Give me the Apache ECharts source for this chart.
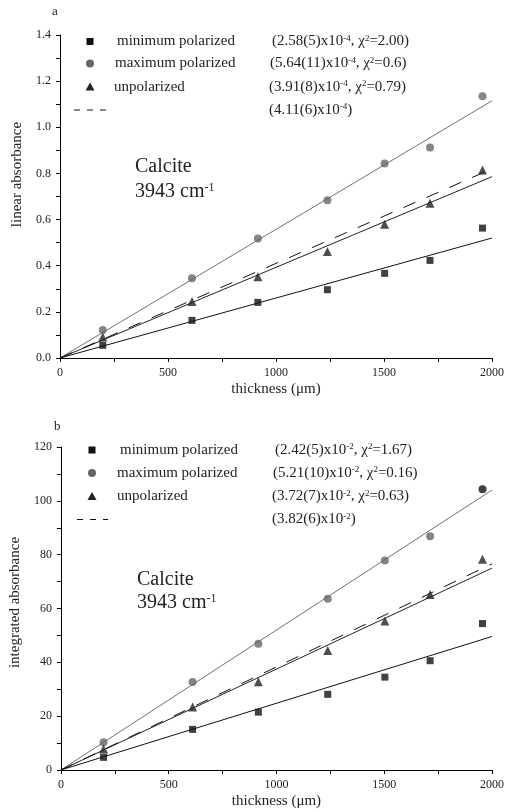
<!DOCTYPE html>
<html><head><meta charset="utf-8">
<script src="https://cdn.jsdelivr.net/npm/echarts@6/dist/echarts.min.js"></script>
<style>html,body{margin:0;padding:0;background:#fff}#c{width:507px;height:812px}</style>
</head><body><div id="c"></div>
<script>
// ---- data ----
const thickness = [198, 611, 916, 1238, 1503, 1713, 1956];
const minLinear = [0.055, 0.163, 0.241, 0.296, 0.367, 0.423, 0.563];
const maxLinear = [0.121, 0.346, 0.518, 0.684, 0.843, 0.912, 1.134];
const unpolLinear = [0.091, 0.245, 0.352, 0.462, 0.580, 0.671, 0.815];
const minIntegrated = [4.7, 15.1, 21.5, 28.1, 34.5, 40.6, 54.4];
const maxIntegrated = [10.3, 32.7, 46.9, 63.6, 77.8, 86.8, 104.3];
const unpolIntegrated = [7.8, 23.4, 32.8, 44.4, 55.4, 65.2, 78.3];
// fit lines through origin: value at thickness 2000 (min, max, unpol, dashed)
const fitEndX = 2000;
const fitEndsLinear = [0.52, 1.115, 0.786, 0.82];
const fitEndsIntegrated = [49.6, 104.0, 75.0, 76.6];
const legendNames = ['minimum polarized', 'maximum polarized', 'unpolarized', ''];
const fitLabelsA = ['(2.58(5)x10{s|-4}, χ{s|2}=2.00)', '(5.64(11)x10{s|-4}, χ{s|2}=0.6)', '(3.91(8)x10{s|-4}, χ{s|2}=0.79)', '(4.11(6)x10{s|-4})'];
const fitLabelsB = ['(2.42(5)x10{s|-2}, χ{s|2}=1.67)', '(5.21(10)x10{s|-2}, χ{s|2}=0.16)', '(3.72(7)x10{s|-2}, χ{s|2}=0.63)', '(3.82(6)x10{s|-2})'];
const xTicks = [0, 500, 1000, 1500, 2000];
const yTicksA = [0, 0.2, 0.4, 0.6, 0.8, 1.0, 1.2, 1.4];
const yTicksB = [0, 20, 40, 60, 80, 100, 120];

// ---- styles ----
const FONT = '"Liberation Serif", "Times New Roman", serif';
const C_MIN = '#111111', C_MAX = '#666666', C_UNP = '#222222', C_MAXLINE = '#707070';

const chart = echarts.init(document.getElementById('c'), null, {renderer: 'canvas'});

function xAxis(idx) {
  return {
    gridIndex: idx, type: 'value', min: xTicks[0], max: xTicks[xTicks.length - 1], interval: xTicks[1] - xTicks[0],
    name: 'thickness (μm)', nameLocation: 'middle', nameGap: 24,
    nameTextStyle: {fontFamily: FONT, fontSize: 15, color: '#222'},
    axisLine: {show: true, onZero: false, lineStyle: {color: '#000', width: 1}},
    axisTick: {show: true, length: 4, lineStyle: {color: '#000'}},
    minorTick: {show: true, splitNumber: 2, length: 4, lineStyle: {color: '#000'}},
    axisLabel: {fontFamily: FONT, fontSize: 12, color: '#222', margin: 9, formatter: v => String(v)},
    splitLine: {show: false}
  };
}
function yAxis(idx, ticks, name, dec, pad) {
  return {
    gridIndex: idx, type: 'value', min: ticks[0], max: ticks[ticks.length - 1], interval: ticks[1] - ticks[0],
    name: name, nameLocation: 'middle', nameGap: 35,
    nameTextStyle: {fontFamily: FONT, fontSize: 15, color: '#222', padding: pad},
    axisLine: {show: true, lineStyle: {color: '#000', width: 1}},
    axisTick: {show: true, length: 4, lineStyle: {color: '#000'}},
    minorTick: {show: true, splitNumber: 2, length: 4, lineStyle: {color: '#000'}},
    axisLabel: {fontFamily: FONT, fontSize: 12, color: '#222', margin: 9,
      formatter: v => v.toFixed(dec)},
    splitLine: {show: false}
  };
}

function fitSeries(idx, ends) {
  const styles = [
    {color: C_MIN, type: 'solid'},
    {color: C_MAXLINE, type: 'solid'},
    {color: C_UNP, type: 'solid'},
    {color: '#111', type: [13, 12]}
  ];
  return ends.map((v, i) => ({
    type: 'line', xAxisIndex: idx, yAxisIndex: idx, silent: true, showSymbol: false, z: 2,
    data: [[0, 0], [fitEndX, v]],
    lineStyle: {width: 1, color: styles[i].color, type: styles[i].type}
  }));
}
function scatterSeries(idx, mins, maxs, unps, lastBlack) {
  const pair = arr => thickness.map((t, i) => [t, arr[i]]);
  return [
    {type: 'scatter', xAxisIndex: idx, yAxisIndex: idx, symbol: 'rect', symbolSize: 7, z: 5,
     itemStyle: {color: C_MIN}, data: pair(mins)},
    {type: 'scatter', xAxisIndex: idx, yAxisIndex: idx, symbol: 'circle', symbolSize: 8, z: 5,
     itemStyle: {color: p => (lastBlack && p.dataIndex === thickness.length - 1) ? C_MIN : C_MAX}, data: pair(maxs)},
    {type: 'scatter', xAxisIndex: idx, yAxisIndex: idx, symbol: 'triangle', symbolSize: 9, z: 5,
     itemStyle: {color: C_UNP}, data: pair(unps)}
  ];
}

const richSup = {s: {fontSize: 9, fontFamily: FONT, fill: '#222', verticalAlign: 'top', lineHeight: 9}};

function legendBlock(rows, mx, nameX, fitX, fitLabels, dash) {
  const g = [];
  g.push({type: 'rect', shape: {x: mx - 3.5, y: rows[0] - 3.5, width: 7, height: 7}, style: {fill: C_MIN}});
  g.push({type: 'circle', shape: {cx: mx, cy: rows[1], r: 4}, style: {fill: C_MAX}});
  g.push({type: 'polygon', shape: {points: [[mx, rows[2] - 4.5], [mx + 4.5, rows[2] + 3.5], [mx - 4.5, rows[2] + 3.5]]}, style: {fill: C_UNP}});
  g.push({type: 'line', shape: {x1: dash[0], y1: rows[3], x2: dash[1], y2: rows[3]},
    style: {stroke: '#111', lineWidth: 1, lineDash: [6, 7]}});
  legendNames.forEach((n, i) => {
    if (!n) return;
    g.push({type: 'text', x: nameX[i], y: rows[i], style: {text: n, fontFamily: FONT, fontSize: 15, fill: '#222', verticalAlign: 'middle'}});
  });
  fitLabels.forEach((t, i) => {
    g.push({type: 'text', x: fitX[i], y: rows[i], style: {text: t, rich: richSup, fontFamily: FONT, fontSize: 15, fill: '#222', verticalAlign: 'middle'}});
  });
  return g;
}

const supBig = {s: {fontSize: 12, fontFamily: FONT, fill: '#222', verticalAlign: 'top', lineHeight: 12}};
const graphics = [].concat(
  [{type: 'text', x: 52, y: 12, style: {text: 'a', fontFamily: FONT, fontSize: 13, fill: '#222', verticalAlign: 'middle'}},
   {type: 'text', x: 54, y: 427, style: {text: 'b', fontFamily: FONT, fontSize: 13, fill: '#222', verticalAlign: 'middle'}},
   {type: 'text', x: 135, y: 167, style: {text: 'Calcite', fontFamily: FONT, fontSize: 20, fill: '#222', verticalAlign: 'middle'}},
   {type: 'text', x: 135, y: 192, style: {text: '3943 cm{s|-1}', rich: supBig, fontFamily: FONT, fontSize: 20, fill: '#222', verticalAlign: 'middle'}},
   {type: 'text', x: 137, y: 580, style: {text: 'Calcite', fontFamily: FONT, fontSize: 20, fill: '#222', verticalAlign: 'middle'}},
   {type: 'text', x: 137, y: 603, style: {text: '3943 cm{s|-1}', rich: supBig, fontFamily: FONT, fontSize: 20, fill: '#222', verticalAlign: 'middle'}}],
  legendBlock([41.5, 63.5, 87, 110], 90, [117, 115, 114, 0], [272, 270, 269, 269], fitLabelsA, [74, 107]),
  legendBlock([450, 473, 496.5, 519.5], 92, [120, 117, 117, 0], [275, 273, 272, 272], fitLabelsB, [77, 108])
);

chart.setOption({
  animation: false,
  backgroundColor: '#fff',
  grid: [
    {left: 60, right: 13, top: 35, height: 323},
    {left: 60, right: 13, top: 447, height: 323}
  ],
  xAxis: [xAxis(0), xAxis(1)],
  yAxis: [
    yAxis(0, yTicksA, 'linear absorbance', 1, [0, 0, 0, 44]),
    yAxis(1, yTicksB, 'integrated absorbance', 0, [0, 0, 0, 12])
  ],
  series: [].concat(
    fitSeries(0, fitEndsLinear),
    scatterSeries(0, minLinear, maxLinear, unpolLinear, false),
    fitSeries(1, fitEndsIntegrated),
    scatterSeries(1, minIntegrated, maxIntegrated, unpolIntegrated, true)
  ),
  graphic: graphics
});
</script></body></html>
